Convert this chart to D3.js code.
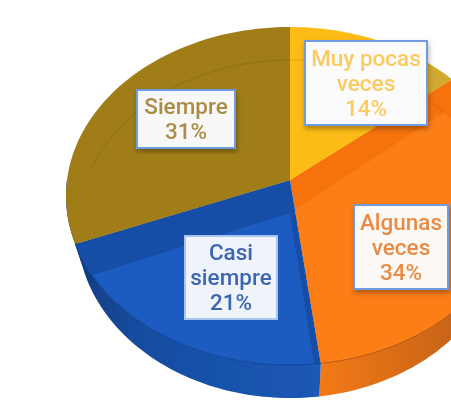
<!DOCTYPE html>
<html><head><meta charset="utf-8">
<script src="https://cdn.jsdelivr.net/npm/d3@7"></script>
<style>html,body{margin:0;padding:0;background:#fff;overflow:hidden}svg{display:block}</style>
</head><body>
<svg id="c" width="451" height="413"></svg>
<script>
const categories = ["Muy pocas veces", "Algunas veces", "Casi siempre", "Siempre"];
const values = [14, 34, 21, 31];
const labelLines = [["Muy pocas","veces","14%"],["Algunas","veces","34%"],["Casi","siempre","21%"],["Siempre","31%"]];
const topColors = ["url(#yel)","#f5720f","#134ea6","#a07d17"];
const lightColors = ["#fdbb14","#fc7e14","#1b5cc0","#a07d17"];
const textColors = ["#fbcb60","#e88c44","#3e66b2","#ab8c45"];
const borderColors = ["#6f9be0","#6f9be0","#a9c4ee","#6f9be0"];
const boxFills = ["#fbfbfc","#fbf8f6","#eff4fb","#f8f8f8"];
const labelBoxes = [[305,41,122,84],[354,205,94,84],[185,236,92,83],[137,90,98,58]];

const svg = d3.select("#c");
const defs = svg.append("defs");
const blur = defs.append("filter").attr("id","soft").attr("x","-5%").attr("y","-5%").attr("width","110%").attr("height","110%");
blur.append("feGaussianBlur").attr("stdDeviation",0.55);
const shadow = defs.append("filter").attr("id","shadow").attr("x","-15%").attr("y","-15%").attr("width","130%").attr("height","135%");
shadow.append("feDropShadow").attr("dx",1).attr("dy",3).attr("stdDeviation",2.5).attr("flood-color","#000").attr("flood-opacity",0.3);
const soft2 = defs.append("filter").attr("id","soft2").attr("x","-10%").attr("y","-10%").attr("width","120%").attr("height","120%");
soft2.append("feGaussianBlur").attr("stdDeviation",0.35);

const yel = defs.append("linearGradient").attr("id","yel").attr("gradientUnits","userSpaceOnUse").attr("x1",422).attr("x2",432).attr("y1",0).attr("y2",0);
yel.append("stop").attr("offset",0).attr("stop-color","#fdbb14");
yel.append("stop").attr("offset",1).attr("stop-color","#d2aa30");
const wallO = defs.append("linearGradient").attr("id","wall1").attr("gradientUnits","userSpaceOnUse").attr("x1",316).attr("x2",451).attr("y1",0).attr("y2",0);
wallO.append("stop").attr("offset",0).attr("stop-color","#f47a14");
wallO.append("stop").attr("offset",1).attr("stop-color","#c8641a");
const wallB = defs.append("linearGradient").attr("id","wall2").attr("gradientUnits","userSpaceOnUse").attr("x1",75).attr("x2",316).attr("y1",0).attr("y2",0);
wallB.append("stop").attr("offset",0).attr("stop-color","#0f3a80");
wallB.append("stop").attr("offset",0.25).attr("stop-color","#174c9f");
wallB.append("stop").attr("offset",1).attr("stop-color","#1b58b6");

// Perspective projection of the pie plane
const tilt = 0.0947, radX = 223, radY = 167.5;
const xPos = d3.scaleLinear().domain([0,1]).range([290,290+radX]);
const yTop = d3.scaleLinear().domain([0,1]).range([180,180+radY]);
const xLow = d3.scaleLinear().domain([0,1]).range([290,290+radX*0.95]);
const yLow = d3.scaleLinear().domain([0,1]).range([213,213+radY]);
const proj = (a,low) => {
  const s = Math.sin(a), c = -Math.cos(a), w = 1 - tilt*c;
  return low ? [xLow(s/w), yLow(c/w)] : [xPos(s/w), yTop(c/w)];
};
const ring = (a0,a1,low) => d3.range(0,61).map(i => proj(a0+(a1-a0)*i/60,low));
const line = d3.line();
const arcs = d3.pie().sort(null).value(d=>d)(values);
const wedge = (d,low) => line([low?[xLow(0),yLow(0)]:[xPos(0),yTop(0)], ...ring(d.startAngle,d.endAngle,low)])+"Z";

const g = svg.append("g").attr("filter","url(#soft)");
defs.selectAll("clipPath").data(arcs).join("clipPath").attr("id",(d,i)=>"cp"+i).append("path").attr("d",d=>wedge(d,false));

// side wall, front half only
const front = [Math.PI/2, 3*Math.PI/2];
arcs.forEach((d,i)=>{
  const a0 = Math.max(d.startAngle,front[0]), a1 = Math.min(d.endAngle,front[1]);
  if(a0>=a1) return;
  const pts = ring(a0,a1,false).concat(ring(a0,a1,true).reverse());
  g.append("path").attr("d",line(pts)+"Z").attr("fill",i===1?"url(#wall1)":"url(#wall2)");
});
// top face
g.selectAll("path.top").data(arcs).join("path").attr("class","top").attr("d",d=>wedge(d,false)).attr("fill",(d,i)=>topColors[i]);
// lighter lower-face overlay seen through the surface
g.selectAll("path.light").data(arcs).join("path").attr("class","light").attr("d",d=>wedge(d,true))
  .attr("clip-path",(d,i)=>`url(#cp${i})`).attr("fill",(d,i)=>lightColors[i]);
// faint ring inside the back half
g.append("path").attr("d",line(ring(-Math.PI*0.42,Math.PI*0.28,true))).attr("fill","none").attr("stroke","#000").attr("stroke-opacity",0.1).attr("stroke-width",1);
// rim line along the front
arcs.forEach((d,i)=>{
  if(i===1||i===2){
    g.append("path").attr("d",line(ring(Math.max(d.startAngle,front[0]),d.endAngle,false)))
     .attr("fill","none").attr("stroke",i===1?"#a84c0c":"#0e3f8e").attr("stroke-width",1).attr("stroke-opacity",0.8);
  }
});

// labels
const lab = svg.selectAll("g.lab").data(categories).join("g").attr("class","lab").attr("filter","url(#soft2)");
lab.each(function(c,i){
  const [x,y,w,h] = labelBoxes[i], el = d3.select(this);
  el.append("rect").attr("x",x).attr("y",y).attr("width",w).attr("height",h).attr("fill",boxFills[i])
    .attr("stroke",borderColors[i]).attr("stroke-width",2).attr("filter",i===2?null:"url(#shadow)");
  const ls = labelLines[i], lh = 25, y0 = y + h/2 - (ls.length-1)*lh/2 + 7.5;
  ls.forEach((t,k)=>el.append("text").attr("x",x+w/2).attr("y",y0+k*lh).attr("text-anchor","middle")
    .attr("font-family","Roboto, 'Liberation Sans', sans-serif").attr("font-weight",500).attr("font-size",22.5).attr("fill",textColors[i]).text(t));
});
</script>
</body></html>
